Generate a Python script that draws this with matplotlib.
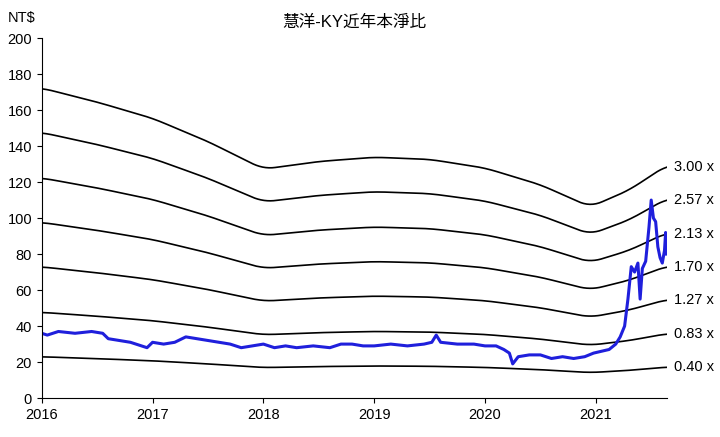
import matplotlib.pyplot as plt
import numpy as np

plt.rcParams['font.family'] = ['Liberation Sans', 'Noto Sans CJK JP', 'Noto Sans CJK TC', 'Noto Sans CJK SC']

# 每股淨值 (NT$) 節點
bv_t = [2016.0, 2016.5, 2017.0, 2017.5, 2018.0, 2018.5, 2019.0, 2019.5, 2020.0, 2020.5, 2020.95, 2021.3, 2021.64]
bv_v = [57.4, 54.8, 51.8, 47.5, 42.4, 43.8, 44.6, 44.2, 42.6, 39.5, 35.4, 38.5, 43.1]
multiples = [3.00, 2.57, 2.13, 1.70, 1.27, 0.83, 0.40]
mult_labels = ['3.00 x', '2.57 x', '2.13 x', '1.70 x', '1.27 x', '0.83 x', '0.40 x']

# 股價 (NT$)
px_t = [2016.0, 2016.05, 2016.15, 2016.3, 2016.45, 2016.55, 2016.6, 2016.7, 2016.8, 2016.9, 2016.95,
        2017.0, 2017.1, 2017.2, 2017.3, 2017.4, 2017.5, 2017.6, 2017.7, 2017.8, 2017.9,
        2018.0, 2018.1, 2018.2, 2018.3, 2018.45, 2018.6, 2018.7, 2018.8, 2018.9,
        2019.0, 2019.15, 2019.3, 2019.45, 2019.52, 2019.56, 2019.6, 2019.75, 2019.9,
        2020.0, 2020.1, 2020.17, 2020.22, 2020.25, 2020.3, 2020.4, 2020.5, 2020.6, 2020.7, 2020.8, 2020.9,
        2020.98, 2021.05, 2021.12, 2021.18, 2021.22, 2021.26, 2021.29, 2021.32, 2021.35, 2021.38, 2021.4,
        2021.42, 2021.45, 2021.48, 2021.5, 2021.52, 2021.54, 2021.56, 2021.58, 2021.6, 2021.62, 2021.63, 2021.64]
px_v = [36, 35, 37, 36, 37, 36, 33, 32, 31, 29, 28,
        31, 30, 31, 34, 33, 32, 31, 30, 28, 29,
        30, 28, 29, 28, 29, 28, 30, 30, 29,
        29, 30, 29, 30, 31, 35, 31, 30, 30,
        29, 29, 27, 25, 19, 23, 24, 24, 22, 23, 22, 23,
        25, 26, 27, 30, 34, 40, 55, 73, 70, 75, 55,
        72, 76, 95, 110, 100, 98, 84, 78, 75, 82, 92, 80]

t = np.linspace(2016.0, 2021.64, 400)
bv = np.interp(t, bv_t, bv_v)
# 平滑一下
k = np.ones(15) / 15
bv_s = np.convolve(np.pad(bv, 7, mode='edge'), k, mode='valid')

fig = plt.figure(figsize=(7.2, 4.37), dpi=100)
ax = fig.add_axes([0.058, 0.089, 0.868, 0.824])
for m, lab in zip(multiples, mult_labels):
    ax.plot(t, bv_s * m, color='black', linewidth=1.2)
    ax.text(2021.64 + 0.07, bv_s[-1] * m, lab, va='center', ha='left', fontsize=10.5, clip_on=False)
ax.plot(px_t, px_v, color='#1f1fdc', linewidth=2.2)

ax.set_xlim(2016, 2021.64)
ax.set_ylim(0, 200)
ax.set_yticks(range(0, 201, 20))
ax.set_xticks(range(2016, 2022))
ax.tick_params(labelsize=10.5)
ax.spines['top'].set_visible(False)
ax.spines['right'].set_visible(False)
ax.set_title('慧洋-KY近年本淨比', fontsize=12, pad=8)
ax.text(-0.055, 1.035, 'NT$', transform=ax.transAxes, ha='left', va='bottom', fontsize=10.5)

plt.savefig('out.png', dpi=100)
plt.close()
